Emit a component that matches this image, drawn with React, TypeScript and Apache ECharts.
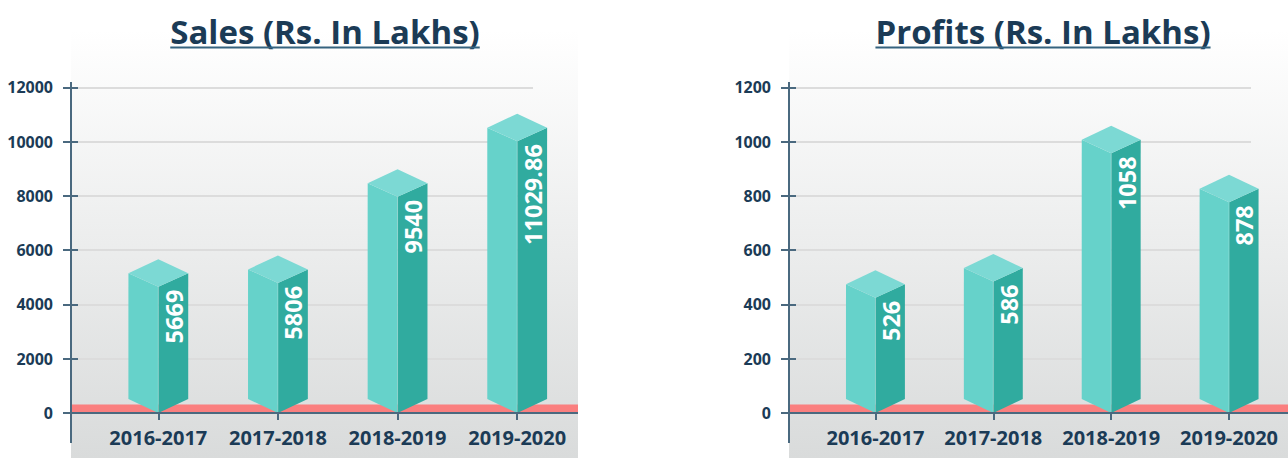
import React, { useEffect, useRef } from "react";
import * as echarts from "echarts";

const categories = ["2016-2017", "2017-2018", "2018-2019", "2019-2020"];
// bar heights as drawn in the reference; labels as printed on the bars
const salesValues = [5669, 5806, 8980, 11029.86];
const salesLabels = ["5669", "5806", "9540", "11029.86"];
const profitValues = [526, 586, 1058, 878];
const profitLabels = ["526", "586", "1058", "878"];
const salesAxis = { min: 0, max: 12000, interval: 2000 };
const profitAxis = { min: 0, max: 1200, interval: 200 };
const titles = ["Sales (Rs. In Lakhs)", "Profits (Rs. In Lakhs)"];

const FONT = '"Open Sans", "Noto Sans", sans-serif';
const NAVY = "#1b3b56";
const AXIS = "#4a697f";
const LEFT_FACE = "#66d2ca";
const RIGHT_FACE = "#30ab9f";
const TOP_FACE = "#7cd9d4";

function measure(text: string, font: string): number {
  const c = document.createElement("canvas").getContext("2d");
  if (!c) return 300;
  c.font = font;
  return c.measureText(text).width;
}

export default function App() {
  const ref = useRef<HTMLDivElement>(null);
  useEffect(() => {
    if (!ref.current) return;
    const chart = echarts.init(ref.current, undefined, { renderer: "svg" });
    const charts = [
      { title: titles[0], values: salesValues, labels: salesLabels, axis: salesAxis, dx: 0 },
      { title: titles[1], values: profitValues, labels: profitLabels, axis: profitAxis, dx: 718 },
    ];
    const TOP = 87.3;
    const ZERO = 413;
    const H = ZERO - TOP;
    const grid: any[] = [];
    const xAxis: any[] = [];
    const yAxis: any[] = [];
    const series: any[] = [];
    const graphic: any[] = [];
    const titleFont = `bold 33px ${FONT}`;

    charts.forEach((c, i) => {
      const dx = c.dx;
      grid.push({ left: 71 + dx, top: TOP, width: 462, height: H });
      grid.push({ left: 98.5 + dx, top: TOP, width: 478.5, height: H });
      xAxis.push({ gridIndex: 2 * i, type: "value", show: false, min: 0, max: 1 });
      xAxis.push({
        gridIndex: 2 * i + 1,
        type: "category",
        data: categories,
        boundaryGap: true,
        axisLine: { show: false },
        axisTick: { show: true, alignWithLabel: true, length: 7, lineStyle: { color: AXIS, width: 2 } },
        axisLabel: {
          interval: 0,
          color: NAVY,
          fontWeight: "bold",
          fontSize: 20,
          fontFamily: FONT,
          margin: 14,
        },
      });
      yAxis.push({
        gridIndex: 2 * i,
        type: "value",
        position: "left",
        min: c.axis.min,
        max: c.axis.max,
        interval: c.axis.interval,
        axisLine: { show: false },
        axisTick: { show: true, length: 8, lineStyle: { color: AXIS, width: 2 } },
        axisLabel: {
          color: NAVY,
          fontWeight: "bold",
          fontSize: 16,
          fontFamily: FONT,
          margin: 18,
          formatter: (v: number) => String(v),
        },
        splitLine: { show: true, lineStyle: { color: "#dcdcdc", width: 2 } },
      });
      yAxis.push({
        gridIndex: 2 * i,
        type: "value",
        position: "left",
        min: c.axis.min,
        max: c.axis.max,
        interval: c.axis.interval,
        axisLine: { show: false },
        axisTick: { show: true, inside: true, length: 7, lineStyle: { color: AXIS, width: 2 } },
        axisLabel: { show: false },
        splitLine: { show: false },
      });
      yAxis.push({
        gridIndex: 2 * i + 1,
        type: "value",
        min: c.axis.min,
        max: c.axis.max,
        interval: c.axis.interval,
        show: false,
      });
      const labels = c.labels;
      series.push({
        type: "custom",
        xAxisIndex: 2 * i + 1,
        yAxisIndex: 3 * i + 2,
        z: 3,
        data: c.values.map((v, k) => [k, v]),
        renderItem: (params: any, api: any) => {
          const idx = api.value(0);
          const v = api.value(1);
          const top = api.coord([idx, v]);
          const base = api.coord([idx, 0]);
          const hw = api.size([1, 0])[0] * 0.25;
          const cx = top[0];
          const yv = top[1];
          const y0 = base[1];
          const d1 = 14;
          const d2 = 27.5;
          return {
            type: "group",
            children: [
              {
                type: "polygon",
                shape: { points: [[cx - hw, yv + d1], [cx, yv + d2], [cx, y0], [cx - hw, y0 - d1]] },
                style: { fill: LEFT_FACE },
              },
              {
                type: "polygon",
                shape: { points: [[cx, yv + d2], [cx + hw, yv + d1], [cx + hw, y0 - d1], [cx, y0]] },
                style: { fill: RIGHT_FACE },
              },
              {
                type: "polygon",
                shape: { points: [[cx, yv], [cx + hw, yv + d1], [cx, yv + d2], [cx - hw, yv + d1]] },
                style: { fill: TOP_FACE },
              },
              {
                type: "line",
                shape: { x1: cx, y1: yv + d2, x2: cx, y2: y0 },
                style: { stroke: "rgba(255,255,255,0.25)", lineWidth: 1 },
              },
              {
                type: "text",
                x: cx + hw * 0.52,
                y: yv + d2 + 3,
                rotation: Math.PI / 2,
                style: {
                  text: labels[params.dataIndex],
                  fill: "#ffffff",
                  font: `bold 23.5px ${FONT}`,
                  align: "right",
                  verticalAlign: "middle",
                },
              },
            ],
          };
        },
      });

      // decorative panel, band, axis lines, title
      graphic.push({
        type: "rect",
        z: -10,
        shape: { x: 71 + dx, y: 30, width: 507, height: 428 },
        style: {
          fill: new echarts.graphic.LinearGradient(0, 0, 0, 1, [
            { offset: 0, color: "#ffffff" },
            { offset: 1, color: "#d9dbdb" },
          ]),
        },
      });
      graphic.push({
        type: "rect",
        z: 1,
        shape: { x: 71 + dx, y: 404.5, width: 507, height: 8 },
        style: { fill: "#fa7f7f" },
      });
      graphic.push({
        type: "line",
        z: 10,
        shape: { x1: 71 + dx, y1: ZERO, x2: 578 + dx, y2: ZERO },
        style: { stroke: AXIS, lineWidth: 2 },
      });
      graphic.push({
        type: "line",
        z: 10,
        shape: { x1: 71 + dx, y1: 82, x2: 71 + dx, y2: 443 },
        style: { stroke: AXIS, lineWidth: 2 },
      });
      const tcx = 325 + dx;
      const tw = measure(c.title, titleFont);
      graphic.push({
        type: "text",
        z: 10,
        x: tcx,
        y: 31,
        style: { text: c.title, fill: NAVY, font: titleFont, align: "center", verticalAlign: "middle" },
      });
      graphic.push({
        type: "line",
        z: 10,
        shape: { x1: tcx - tw / 2, y1: 47.5, x2: tcx + tw / 2, y2: 47.5 },
        style: { stroke: "#35637f", lineWidth: 2 },
      });
    });

    chart.setOption({
      animation: false,
      grid,
      xAxis,
      yAxis,
      series,
      graphic,
    });
    return () => chart.dispose();
  }, []);
  return (
    <div
      ref={ref}
      style={{ position: "fixed", left: 0, top: 0, width: 1288, height: 458, background: "#ffffff" }}
    />
  );
}
